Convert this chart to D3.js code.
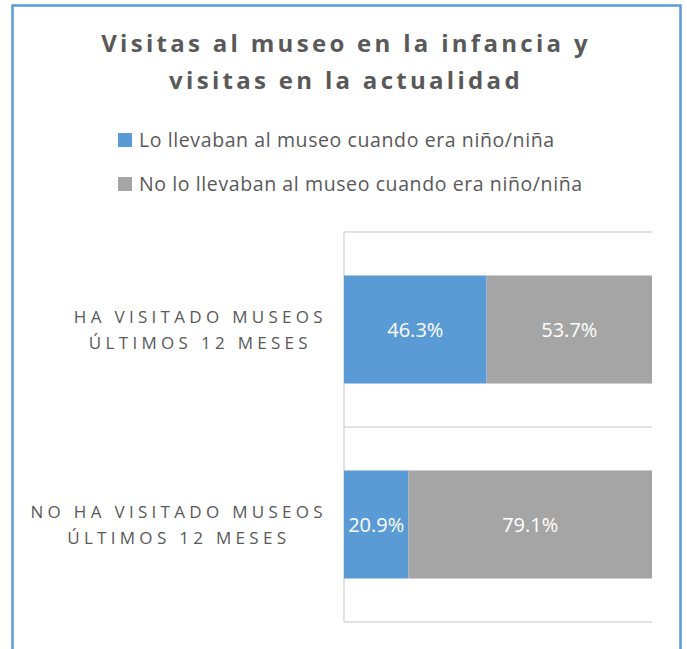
<!DOCTYPE html>
<html lang="es">
<head>
    <meta charset="UTF-8">
    <title>Visitas al museo</title>
    <script src="https://cdn.jsdelivr.net/npm/d3@7"></script>
    <style>
        body { margin: 0; background: #fff; font-family: 'Open Sans', 'Noto Sans', sans-serif; }
        svg { display: block; }
    </style>
</head>
<body>
<div id="chart"></div>
<script type="text/javascript">
    // data
    var titleLines = ["Visitas al museo en la infancia y", "visitas en la actualidad"];
    var categories = ["HA VISITADO MUSEOS ÚLTIMOS 12 MESES", "NO HA VISITADO MUSEOS ÚLTIMOS 12 MESES"];
    var categoryLines = [["HA VISITADO MUSEOS", "ÚLTIMOS 12 MESES"], ["NO HA VISITADO MUSEOS", "ÚLTIMOS 12 MESES"]];
    var seriesNames = ["Lo llevaban al museo cuando era niño/niña", "No lo llevaban al museo cuando era niño/niña"];
    var llevaban = [46.3, 20.9];
    var noLlevaban = [53.7, 79.1];

    var w = 687, h = 649;
    var colors = ["#5b9bd5", "#a5a5a5"];
    var textColor = "#595959";

    var svg = d3.select("#chart")
      .append("svg")
      .attr("width", w)
      .attr("height", h);

    // outer frame
    svg.append("rect")
      .attr("x", 12.5).attr("y", 5.5)
      .attr("width", 668).attr("height", 700)
      .attr("fill", "#fff")
      .attr("stroke", "#5b9bd5")
      .attr("stroke-width", 2.5);

    // title
    svg.selectAll(".title")
      .data(titleLines)
      .enter().append("text")
      .attr("class", "title")
      .attr("x", 346)
      .attr("y", function(d, i) { return 52 + i * 37; })
      .attr("text-anchor", "middle")
      .style("font-size", "24px")
      .style("font-weight", "bold")
      .style("letter-spacing", "3.3px")
      .style("fill", textColor)
      .text(function(d) { return d; });

    // legend
    var legend = svg.selectAll(".legend")
      .data(seriesNames)
      .enter().append("g")
      .attr("class", "legend")
      .attr("transform", function(d, i) { return "translate(118," + (133 + i * 44) + ")"; });
    legend.append("rect")
      .attr("width", 14).attr("height", 14)
      .attr("fill", function(d, i) { return colors[i]; });
    legend.append("text")
      .attr("x", 21).attr("y", 13.5)
      .style("font-size", "19.5px")
      .style("letter-spacing", "0.6px")
      .style("fill", textColor)
      .text(function(d) { return d; });

    // scales
    var x = d3.scaleLinear().domain([0, 100]).range([344, 652]);
    var y = d3.scaleBand().domain(categories).range([232, 622]).paddingInner(0.446).paddingOuter(0.223);
    var gap = y.step() * y.paddingInner() / 2;

    // gridlines between categories
    var bounds = categories.map(function(c) { return y(c) - gap; }).concat([y.range()[1]]);
    svg.selectAll(".grid")
      .data(bounds)
      .enter().append("line")
      .attr("class", "grid")
      .attr("x1", x(0)).attr("x2", x(100))
      .attr("y1", function(d) { return d; }).attr("y2", function(d) { return d; })
      .attr("stroke", "#d9d9d9")
      .attr("stroke-width", 1.5);
    svg.append("line")
      .attr("x1", x(0)).attr("x2", x(0))
      .attr("y1", y.range()[0]).attr("y2", y.range()[1])
      .attr("stroke", "#d9d9d9")
      .attr("stroke-width", 1.5);

    // stacked bars
    var rows = categories.map(function(c, i) { return {cat: c, vals: [llevaban[i], noLlevaban[i]]}; });
    rows.forEach(function(r) {
        var start = 0;
        r.vals.forEach(function(v, j) {
            svg.append("rect")
              .attr("x", x(start))
              .attr("y", y(r.cat))
              .attr("width", x(start + v) - x(start))
              .attr("height", y.bandwidth())
              .attr("fill", colors[j]);
            svg.append("text")
              .attr("x", x(start + v / 2))
              .attr("y", y(r.cat) + y.bandwidth() / 2 + 7.5)
              .attr("text-anchor", "middle")
              .style("font-size", "20px")
              .style("fill", "#fff")
              .text(v.toFixed(1) + "%");
            start += v;
        });
    });

    // category labels: block right aligned, lines centered
    categories.forEach(function(c, i) {
        var g = svg.append("g");
        var texts = g.selectAll("text")
          .data(categoryLines[i])
          .enter().append("text")
          .attr("y", function(d, k) { return y(c) + y.bandwidth() / 2 - 7 + k * 26.5; })
          .attr("text-anchor", "middle")
          .style("font-size", "17px")
          .style("letter-spacing", "4.3px")
          .style("fill", textColor)
          .text(function(d) { return d; });
        var maxW = d3.max(texts.nodes(), function(n) { return n.getComputedTextLength(); });
        texts.attr("x", 327 - maxW / 2);
    });
</script>
</body>
</html>
